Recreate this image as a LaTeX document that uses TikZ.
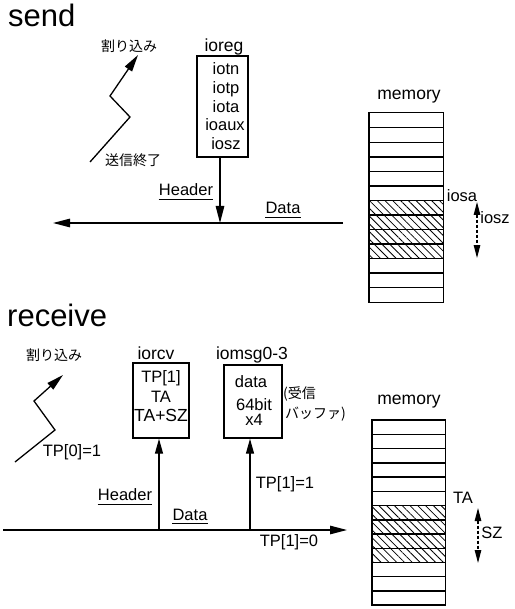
\documentclass[tikz,border=0pt]{standalone}
\usepackage{fontspec}
\setmainfont{Liberation Sans}
\newfontfamily\jpfont{Noto Sans CJK JP}
\usetikzlibrary{arrows.meta,patterns.meta}
\begin{document}
\begin{tikzpicture}[x=1pt,y=-1pt,
  lbl/.style={font=\fontsize{16.5}{18}\selectfont, inner sep=0pt, anchor=base},
  biglbl/.style={font=\fontsize{17.5}{19}\selectfont, inner sep=0pt, anchor=base},
  jlbl/.style={font=\jpfont\fontsize{14}{16}\selectfont, inner sep=0pt, anchor=base},
  titletxt/.style={font=\fontsize{31}{34}\selectfont, inner sep=0pt, anchor=base west},
  regbox/.style={draw, line width=1.4pt, inner sep=0pt},
  conn/.style={line width=1.3pt},
  bigtip/.style={-{Triangle[length=17pt,width=8.5pt]}},
  cell/.style={inner sep=0pt},
  memline/.style={line width=1.4pt},
  hatched/.style={pattern={Lines[angle=-45,distance=5.5pt,line width=0.8pt]}},
  sizearrow/.style={line width=1.1pt, dash pattern=on 3pt off 2pt, {Triangle[length=13pt,width=6.5pt]}-{Triangle[length=13pt,width=6.5pt]}},
  uline/.style={line width=1.2pt},
]
\useasboundingbox (0,0) rectangle (514,609);

% ---------------- send ----------------
\node[titletxt] (sendt) at (8,27) {send};
\node[jlbl] (sint) at (129,52) {割り込み};
\node[jlbl] (sendend) at (133,166) {送信終了};
\coordinate (sz1) at (90,162);
\coordinate (sz2) at (130,117);
\coordinate (sz3) at (110,96);
\coordinate (sz4) at (138,55);
\draw[conn, bigtip] (sz1) -- (sz2) -- (sz3) -- (sz4);

\node[biglbl] (ioregl) at (224,52) {ioreg};
\node[regbox, minimum width=51pt, minimum height=101pt] (ioreg) at (222.5,106.5) {};
\node[lbl] (iotn) at (226,75) {iotn};
\node[lbl] (iotp) at (226,94) {iotp};
\node[lbl] (iota) at (226,113) {iota};
\node[lbl] (ioaux) at (225,131) {ioaux};
\node[lbl] (iosz) at (226,150) {iosz};

\coordinate (slr) at (343,223);
\coordinate (sll) at (53,223);
\coordinate (sj) at (220,223);
\draw[conn, bigtip] (slr) -- (sll);
\draw[conn, bigtip] (sj |- ioreg.south) -- (sj);

\node[lbl] (shdr) at (186,196) {Header};
\draw[uline] ([yshift=-3pt]shdr.south west) -- ([yshift=-3pt]shdr.south east);
\node[lbl] (sdata) at (283,214) {Data};
\draw[uline] ([yshift=-3pt]sdata.south west) -- ([yshift=-3pt]sdata.south east);

\node[biglbl] (smeml) at (409,100) {memory};
\foreach \i in {0,...,12}
  \node[cell, minimum width=74pt, minimum height=14.54pt] (sm\i) at (406,{113+14.54*(\i+0.5)}) {};
\foreach \i in {6,...,9}
  \fill[hatched] (sm\i.north west) rectangle (sm\i.south east);
\draw[memline] (sm0.north west) rectangle (sm12.south east);
\foreach \i in {0,...,11}
  \draw[memline] (sm\i.south west) -- (sm\i.south east);

\node[lbl] (iosa) at (462,202) {iosa};
\coordinate (sa1) at (477,202);
\coordinate (sa2) at (477,258);
\draw[sizearrow] (sa1) -- (sa2);
\node[lbl] (ioszr) at (495,224) {iosz};

% ---------------- receive ----------------
\node[titletxt] (recvt) at (7,326) {receive};
\node[jlbl] (rint) at (54,360) {割り込み};
\node[lbl] (tp0) at (72,456) {TP[0]=1};
\coordinate (rz1) at (15,462);
\coordinate (rz2) at (55,430);
\coordinate (rz3) at (34,401);
\coordinate (rz4) at (63,375);
\draw[conn, bigtip] (rz1) -- (rz2) -- (rz3) -- (rz4);

\node[biglbl] (iorcvl) at (156,359) {iorcv};
\node[regbox, minimum width=56pt, minimum height=75pt] (iorcv) at (161,400.5) {};
\node[lbl] (tp1) at (161,382) {TP[1]};
\node[lbl] (ta) at (161,402) {TA};
\node[biglbl] (tasz) at (161,421) {TA+SZ};

\node[biglbl] (iomsgl) at (252,359) {iomsg0-3};
\node[regbox, minimum width=58pt, minimum height=73pt] (iomsg) at (253,401.5) {};
\node[lbl] (mdata) at (251,387) {data};
\node[lbl] (m64) at (254,410) {64bit};
\node[lbl] (mx4) at (254,425) {x4};
\node[jlbl, anchor=base west] (buf1) at (283,398) {(受信};
\node[jlbl, anchor=base west] (buf2) at (285,418) {バッファ)};

\coordinate (rll) at (3,530);
\coordinate (rlr) at (347,530);
\coordinate (ra) at (159,530);
\coordinate (rb) at (250,530);
\draw[conn, bigtip] (rll) -- (rlr);
\draw[conn, -{Triangle[length=15pt,width=8pt]}] (ra) -- (ra |- iorcv.south);
\draw[conn, -{Triangle[length=15pt,width=8pt]}] (rb) -- (rb |- iomsg.south);

\node[lbl] (rhdr) at (125,500) {Header};
\draw[uline] ([yshift=-4pt]rhdr.south west) -- ([yshift=-4pt]rhdr.south east);
\node[lbl] (rdata) at (190,520) {Data};
\draw[uline] ([yshift=-3pt]rdata.south west) -- ([yshift=-3pt]rdata.south east);
\node[lbl] (tp11) at (285,488) {TP[1]=1};
\node[lbl] (tp10) at (289,546) {TP[1]=0};

\node[biglbl] (rmeml) at (409,404) {memory};
\foreach \i in {0,...,12}
  \node[cell, minimum width=73pt, minimum height=14.23pt] (rm\i) at (408.5,{420+14.23*(\i+0.5)}) {};
\foreach \i in {6,...,9}
  \fill[hatched] (rm\i.north west) rectangle (rm\i.south east);
\draw[memline] (rm0.north west) rectangle (rm12.south east);
\foreach \i in {0,...,11}
  \draw[memline] (rm\i.south west) -- (rm\i.south east);

\node[lbl] (tal) at (463,503) {TA};
\coordinate (ra1) at (478,508);
\coordinate (ra2) at (478,563);
\draw[sizearrow] (ra1) -- (ra2);
\node[lbl] (szl) at (492,538) {SZ};
\end{tikzpicture}
\end{document}
